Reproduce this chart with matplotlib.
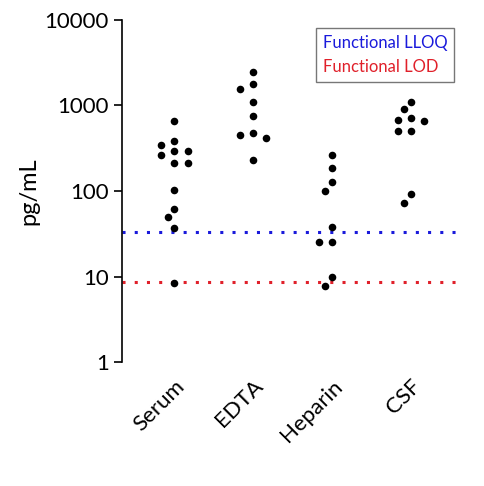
import numpy as np
import matplotlib.pyplot as plt

plt.rcParams['font.family'] = ['Lato', 'DejaVu Sans']

groups = ['Serum', 'EDTA', 'Heparin', 'CSF']
serum = [660, 385, 294, 345, 265, 294, 213, 213, 102, 62, 50, 37, 8.4]
edta = [1790, 475, 2480, 1560, 1100, 750, 420, 230, 450]
heparin = [265, 186, 127, 100, 38, 25, 25, 9.8, 7.7]
csf = [1100, 910, 710, 660, 670, 500, 500, 92, 72]
lloq = 33
lod = 8.6

fig = plt.figure(figsize=(4.85, 4.86), dpi=100)
ax = fig.add_axes([0.252, 0.255, 0.701, 0.704])
ax.set_yscale('log')
ax.set_ylim(1, 10000)
ax.set_xlim(-0.66, 3.65)
fig.canvas.draw()


def swarm(x0, vals, size_px=9.5):
    # simple greedy beeswarm in display coords, dots stepped sideways
    pts = ax.transData.transform([(x0, v) for v in vals])
    placed = []
    out = np.zeros(len(vals))
    for i in np.argsort(-pts[:, 1]):
        y = pts[i, 1]
        cx = pts[i, 0]
        for k in range(0, 20):
            ok = False
            for sgn in ([0] if k == 0 else [-1, 1]):
                cx = pts[i, 0] + sgn * k * size_px * 0.7
                if all((cx - px) ** 2 + (y - py) ** 2 >= size_px ** 2 for px, py in placed):
                    ok = True
                    break
            if ok:
                break
        placed.append((cx, y))
        out[i] = ax.transData.inverted().transform((cx, y))[0]
    return out


for i, vals in enumerate([serum, edta, heparin, csf]):
    xs = swarm(i, vals)
    ax.scatter(xs, vals, s=30, color='black', zorder=3, linewidths=0)

ax.axhline(lloq, color='#1a1adb', ls=(0, (1, 3)), lw=2.2)
ax.axhline(lod, color='#e0202a', ls=(0, (1, 3)), lw=2.2)

ax.set_yticks([1, 10, 100, 1000, 10000])
ax.set_yticklabels(['1', '10', '100', '1000', '10000'], fontsize=16)
ax.minorticks_off()
ax.set_xticks(range(4))
ax.set_xticklabels(groups, rotation=45, ha='right', rotation_mode='anchor', fontsize=16)
ax.tick_params(axis='x', length=0, pad=10)
ax.tick_params(axis='y', width=1.2, length=6)
ax.set_ylabel('pg/mL', fontsize=17)
for s in ['top', 'right', 'bottom']:
    ax.spines[s].set_visible(False)
ax.spines['left'].set_linewidth(1.2)

h1, = ax.plot([], [], color='none')
h2, = ax.plot([], [], color='none')
leg = ax.legend([h1, h2], ['Functional LLOQ', 'Functional LOD'], loc='upper right',
                bbox_to_anchor=(1.0, 1.0), handlelength=0, handletextpad=0,
                fancybox=False, edgecolor='#555555', fontsize=12)
leg.get_texts()[0].set_color('#1a1adb')
leg.get_texts()[1].set_color('#e0202a')

fig.savefig('out.png')
